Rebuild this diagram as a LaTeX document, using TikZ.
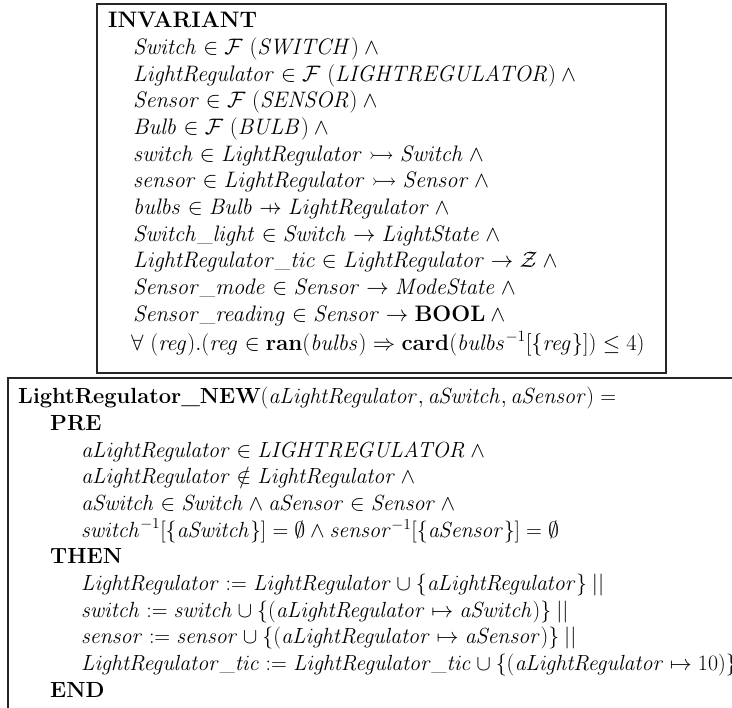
\RequirePackage{fix-cm}
\documentclass[tikz,border=0pt]{standalone}
\usepackage{amsmath,amssymb}
\newcommand{\pfunarrow}{\mathrel{\ooalign{$\rightarrow$\cr\hfil$\mapstochar\mkern3mu$\hfil\cr}}}
\newcommand{\vb}[1]{\mathit{#1}}
\newcommand{\andsym}{\wedge{}}
\newcommand{\parsym}{\mathbin{||}{}}
\tikzset{
  invline/.style={anchor=base west, inner sep=0pt, font=\fontsize{22.4}{27}\selectfont},
  opline/.style={anchor=base west, inner sep=0pt, font=\fontsize{21.9}{26}\selectfont},
  frameline/.style={line width=1.3pt, draw=black!85},
}
\begin{document}
\begin{tikzpicture}[x=1pt,y=1pt]
\useasboundingbox (0,0) rectangle (732,-708);
\fill[white] (0,0) rectangle (732,-708);

% invariant clause
\draw[frameline] (97,-4) rectangle (666,-373);
\node[invline] (inv) at (108,-28) {\textbf{INVARIANT}};
\node[invline] (i1) at (133,-54.7) {$\vb{Switch} \in \mathcal{F}\ (\vb{SWITCH}) \andsym$};
\node[invline] (i2) at (133,-81.3) {$\vb{LightRegulator} \in \mathcal{F}\ (\vb{LIGHTREGULATOR}) \andsym$};
\node[invline] (i3) at (133,-108) {$\vb{Sensor} \in \mathcal{F}\ (\vb{SENSOR}) \andsym$};
\node[invline] (i4) at (133,-134.7) {$\vb{Bulb} \in \mathcal{F}\ (\vb{BULB}) \andsym$};
\node[invline] (i5) at (133,-161.3) {$\vb{switch} \in \vb{LightRegulator} \rightarrowtail \vb{Switch} \andsym$};
\node[invline] (i6) at (133,-188) {$\vb{sensor} \in \vb{LightRegulator} \rightarrowtail \vb{Sensor} \andsym$};
\node[invline] (i7) at (133,-214.7) {$\vb{bulbs} \in \vb{Bulb} \pfunarrow \vb{LightRegulator} \andsym$};
\node[invline] (i8) at (133,-241.3) {$\vb{Switch\_light} \in \vb{Switch} \rightarrow \vb{LightState} \andsym$};
\node[invline] (i9) at (133,-268) {$\vb{LightRegulator\_tic} \in \vb{LightRegulator} \rightarrow \mathcal{Z} \andsym$};
\node[invline] (i10) at (133,-294.7) {$\vb{Sensor\_mode} \in \vb{Sensor} \rightarrow \vb{ModeState} \andsym$};
\node[invline] (i11) at (133,-321.3) {$\vb{Sensor\_reading} \in \vb{Sensor} \rightarrow \mathbf{BOOL} \andsym$};
\node[invline] (i12) at (131,-351) {$\forall\ (\vb{reg}).(\vb{reg} \in \mathbf{ran}(\vb{bulbs}) \Rightarrow \mathbf{card}(\vb{bulbs}^{-1}[\{\vb{reg}\}]) \leq 4)$};

% operation clause
\draw[frameline] (8,-712) -- (8,-378) -- (736,-378);
\node[opline] (op) at (18,-404) {\textbf{LightRegulator\_NEW}$(\vb{aLightRegulator}, \vb{aSwitch}, \vb{aSensor}) =$};
\node[opline] (pre) at (50,-430.7) {\textbf{PRE}};
\node[opline] (p1) at (81,-457.3) {$\vb{aLightRegulator} \in \vb{LIGHTREGULATOR} \andsym$};
\node[opline] (p2) at (81,-484) {$\vb{aLightRegulator} \notin \vb{LightRegulator} \andsym$};
\node[opline] (p3) at (81,-510.7) {$\vb{aSwitch} \in \vb{Switch} \wedge \vb{aSensor} \in \vb{Sensor} \andsym$};
\node[opline] (p4) at (81,-537.3) {$\vb{switch}^{-1}[\{\vb{aSwitch}\}] = \emptyset \wedge \vb{sensor}^{-1}[\{\vb{aSensor}\}] = \emptyset$};
\node[opline] (then) at (50,-564) {\textbf{THEN}};
\node[opline] (t1) at (81,-590.7) {$\vb{LightRegulator} := \vb{LightRegulator} \cup \{\vb{aLightRegulator}\} \parsym$};
\node[opline] (t2) at (81,-617.3) {$\vb{switch} := \vb{switch} \cup \{(\vb{aLightRegulator} \mapsto \vb{aSwitch})\} \parsym$};
\node[opline] (t3) at (81,-644) {$\vb{sensor} := \vb{sensor} \cup \{(\vb{aLightRegulator} \mapsto \vb{aSensor})\} \parsym$};
\node[opline] (t4) at (81,-670.7) {$\vb{LightRegulator\_tic} := \vb{LightRegulator\_tic} \cup \{(\vb{aLightRegulator} \mapsto 10)\}$};
\node[opline] (end) at (50,-697.3) {\textbf{END}};
\end{tikzpicture}
\end{document}
